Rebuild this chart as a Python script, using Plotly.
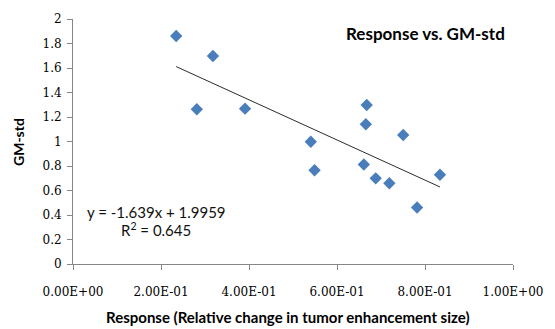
import plotly.graph_objects as go

response = [0.2345, 0.2814, 0.318, 0.391, 0.5405, 0.549, 0.6675, 0.6655, 0.661, 0.688, 0.719, 0.7505, 0.782, 0.834]
gm_std = [1.861, 1.263, 1.698, 1.268, 0.998, 0.765, 1.298, 1.141, 0.812, 0.699, 0.659, 1.053, 0.461, 0.729]

slope = -1.639
intercept = 1.9959
trend_x = [min(response), max(response)]
trend_y = [slope * v + intercept for v in trend_x]

x_tickvals = [0, 0.2, 0.4, 0.6, 0.8, 1.0]
x_ticktext = ["0.00E+00", "2.00E-01", "4.00E-01", "6.00E-01", "8.00E-01", "1.00E+00"]
y_tickvals = [0, 0.2, 0.4, 0.6, 0.8, 1.0, 1.2, 1.4, 1.6, 1.8, 2.0]
y_ticktext = ["0", "0.2", "0.4", "0.6", "0.8", "1", "1.2", "1.4", "1.6", "1.8", "2"]

W, H = 555, 329
L, R, T, B = 73, 34, 19, 65
PW, PH = W - L - R, H - T - B


def px(xp):
    return (xp - L) / PW


def py(yp):
    return (H - B - yp) / PH


fig = go.Figure()
fig.add_trace(go.Scatter(x=trend_x, y=trend_y, mode="lines",
                         line=dict(color="#2b2b2b", width=1), hoverinfo="skip"))
fig.add_trace(go.Scatter(x=response, y=gm_std, mode="markers",
                         marker=dict(symbol="diamond", size=9.5, color="#4A7EBB",
                                     line=dict(width=0))))

tick_font = dict(family="DejaVu Serif", size=12, color="#000000")
fig.update_layout(
    width=W, height=H,
    margin=dict(l=L, r=R, t=T, b=B),
    paper_bgcolor="white", plot_bgcolor="white",
    showlegend=False,
    xaxis=dict(range=[0, 1], tickvals=x_tickvals, ticktext=x_ticktext,
               showgrid=False, zeroline=False, showline=True, linecolor="#868686",
               linewidth=1, ticks="outside", ticklen=5, tickcolor="#868686",
               tickfont=tick_font, ticklabelstandoff=12),
    yaxis=dict(range=[0, 2], tickvals=y_tickvals, ticktext=y_ticktext,
               showgrid=False, zeroline=False, showline=True, linecolor="#868686",
               linewidth=1, ticks="outside", ticklen=5, tickcolor="#868686",
               tickfont=tick_font, ticklabelstandoff=3),
    annotations=[
        dict(text="<b>Response vs. GM-std</b>", xref="paper", yref="paper",
             x=px(432), y=py(33), showarrow=False,
             font=dict(family="Lato", size=17, color="#000000"),
             xanchor="center", yanchor="middle"),
        dict(text="<b>GM-std</b>", xref="paper", yref="paper",
             x=px(17), y=py(142), showarrow=False, textangle=-90,
             font=dict(family="Lato", size=14, color="#000000"),
             xanchor="center", yanchor="middle"),
        dict(text="<b>Response (Relative change in tumor enhancement size)</b>",
             xref="paper", yref="paper",
             x=px(292), y=py(317), showarrow=False,
             font=dict(family="Lato", size=15, color="#000000"),
             xanchor="center", yanchor="middle"),
        dict(text="y = -1.639x + 1.9959", xref="paper", yref="paper",
             x=px(158), y=py(212), showarrow=False,
             font=dict(family="Lato", size=15, color="#111111"),
             xanchor="center", yanchor="middle"),
        dict(text="R<sup>2</sup> = 0.645", xref="paper", yref="paper",
             x=px(158), y=py(229), showarrow=False,
             font=dict(family="Lato", size=15, color="#111111"),
             xanchor="center", yanchor="middle"),
    ],
)

fig.write_html("out.html", config={"displayModeBar": False},
               post_script="document.body.style.margin='0';document.body.style.overflow='hidden';")
